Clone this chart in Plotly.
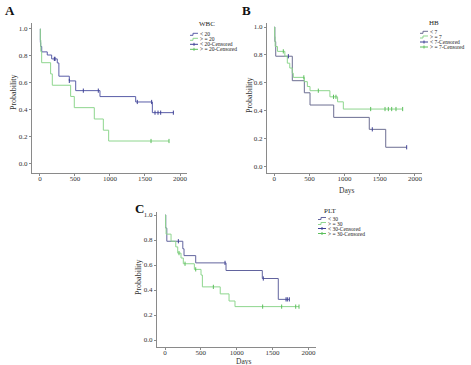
import plotly.graph_objects as go

W, H = 471, 365
FONT = "Liberation Serif"

# ---------------- data (days, survival probability) ----------------
# Panel A : WBC
wbc_lo_t = [0, 5, 10, 25, 104, 167, 247, 270, 419, 510, 857, 1367, 1605, 1905]
wbc_lo_s = [1.0, 0.90, 0.87, 0.83, 0.807, 0.778, 0.748, 0.650, 0.615, 0.543, 0.499, 0.459, 0.38, 0.38]
wbc_lo_ct = [205, 215, 419, 619, 833, 1390, 1595, 1643, 1686, 1724, 1905]
wbc_lo_cs = [0.778, 0.778, 0.615, 0.543, 0.543, 0.459, 0.459, 0.38, 0.38, 0.38, 0.38]
wbc_hi_t = [0, 5, 12, 24, 152, 176, 438, 490, 776, 905, 981, 1843]
wbc_hi_s = [1.0, 0.917, 0.833, 0.75, 0.667, 0.583, 0.50, 0.417, 0.333, 0.25, 0.17, 0.17]
wbc_hi_ct = [1586, 1843]
wbc_hi_cs = [0.17, 0.17]

# Panel B : HB
hb_lo_t = [0, 8, 20, 256, 427, 508, 845, 1351, 1585, 1883]
hb_lo_s = [1.0, 0.895, 0.79, 0.614, 0.527, 0.439, 0.35, 0.264, 0.135, 0.135]
hb_lo_ct = [200, 1394, 1883]
hb_lo_cs = [0.79, 0.264, 0.135]
hb_hi_t = [0, 5, 12, 45, 150, 185, 220, 255, 270, 427, 470, 508, 791, 900, 982, 1826]
hb_hi_s = [1.0, 0.93, 0.86, 0.825, 0.79, 0.74, 0.705, 0.668, 0.638, 0.607, 0.572, 0.542, 0.498, 0.462, 0.41, 0.41]
hb_hi_ct = [128, 420, 626, 842, 877, 1371, 1575, 1622, 1670, 1731, 1826]
hb_hi_cs = [0.825, 0.638, 0.542, 0.498, 0.498, 0.41, 0.41, 0.41, 0.41, 0.41, 0.41]

# Panel C : PLT
plt_lo_t = [0, 10, 25, 248, 265, 428, 851, 1357, 1580, 1734]
plt_lo_s = [1.0, 0.895, 0.79, 0.73, 0.675, 0.617, 0.556, 0.492, 0.325, 0.325]
plt_lo_ct = [186, 837, 1371, 1688, 1706, 1734]
plt_lo_cs = [0.79, 0.617, 0.492, 0.325, 0.325, 0.325]
plt_hi_t = [0, 8, 15, 84, 150, 177, 223, 255, 409, 502, 521, 770, 893, 976, 1869]
plt_hi_s = [1.0, 0.9, 0.847, 0.79, 0.745, 0.695, 0.656, 0.61, 0.565, 0.52, 0.425, 0.369, 0.312, 0.267, 0.267]
plt_hi_ct = [195, 279, 428, 674, 1362, 1627, 1823, 1869]
plt_hi_cs = [0.695, 0.61, 0.565, 0.425, 0.267, 0.267, 0.267, 0.267]

y_ticks = [0.0, 0.2, 0.4, 0.6, 0.8, 1.0]
x_ticks = [0, 500, 1000, 1500, 2000]

panels = [
    dict(key="", letter="A", title="WBC",
         names=["< 20", "> = 20", "< 20-Censored", "> = 20-Censored"],
         lo=(wbc_lo_t, wbc_lo_s, wbc_lo_ct, wbc_lo_cs),
         hi=(wbc_hi_t, wbc_hi_s, wbc_hi_ct, wbc_hi_cs),
         xdom=(32, 187), ydom=(23, 173), xr=[-114, 2100], yr=[-0.067, 1.044],
         lo_color="#5a5ea8", days=False,
         letter_xy=(10, 11), ylab_xy=(13, 92),
         leg_x=190, leg_title_xy=(207, 24), leg_rows=[34.3, 39.3, 44.3, 49.3]),
    dict(key="2", letter="B", title="HB",
         names=["< 7", "> = 7", "< 7-Censored", "> = 7-Censored"],
         lo=(hb_lo_t, hb_lo_s, hb_lo_ct, hb_lo_cs),
         hi=(hb_hi_t, hb_hi_s, hb_hi_ct, hb_hi_cs),
         xdom=(267, 422), ydom=(23, 173), xr=[-104, 2101], yr=[-0.05, 1.029],
         lo_color="#6c6e92", days=True, days_xy=(346, 190),
         letter_xy=(246, 11), ylab_xy=(250, 95),
         leg_x=420, leg_title_xy=(434, 23), leg_rows=[32.3, 37, 42, 47]),
    dict(key="3", letter="C", title="PLT",
         names=["< 30", "> = 30", "< 30-Censored", "> = 30-Censored"],
         lo=(plt_lo_t, plt_lo_s, plt_lo_ct, plt_lo_cs),
         hi=(plt_hi_t, plt_hi_s, plt_hi_ct, plt_hi_cs),
         xdom=(157, 316), ydom=(212, 347), xr=[-112, 2106], yr=[-0.056, 1.024],
         lo_color="#62649e", days=True, days_xy=(243, 361),
         letter_xy=(139, 208), ylab_xy=(138, 277),
         leg_x=318, leg_title_xy=(330, 210.5), leg_rows=[218.5, 223.5, 228.5, 233.5]),
]

GREEN_LINE = "#8ed68e"
GREEN_MARK = "#5cbf5c"


def px_x(v):
    return v / W


def px_y(v):
    return 1 - v / H


fig = go.Figure()
annotations = []
shapes = []

for p in panels:
    xa = "x" + p["key"]
    ya = "y" + p["key"]
    lo_t, lo_s, lo_ct, lo_cs = p["lo"]
    hi_t, hi_s, hi_ct, hi_cs = p["hi"]
    lo_mark = "#3f4296"
    fig.add_trace(go.Scatter(x=lo_t, y=lo_s, mode="lines", line=dict(color=p["lo_color"], width=1, shape="hv"),
                             xaxis=xa, yaxis=ya, showlegend=False, hoverinfo="skip"))
    fig.add_trace(go.Scatter(x=hi_t, y=hi_s, mode="lines", line=dict(color=GREEN_LINE, width=1, shape="hv"),
                             xaxis=xa, yaxis=ya, showlegend=False, hoverinfo="skip"))
    fig.add_trace(go.Scatter(x=lo_ct, y=lo_cs, mode="markers",
                             marker=dict(symbol="line-ns", size=3, line=dict(color=lo_mark, width=1)),
                             xaxis=xa, yaxis=ya, showlegend=False, hoverinfo="skip"))
    fig.add_trace(go.Scatter(x=hi_ct, y=hi_cs, mode="markers",
                             marker=dict(symbol="line-ns", size=3, line=dict(color=GREEN_MARK, width=1)),
                             xaxis=xa, yaxis=ya, showlegend=False, hoverinfo="skip"))

    axis_common = dict(showline=True, linecolor="#8a8a8a", linewidth=1, ticks="outside", ticklen=2,
                       tickcolor="#8a8a8a", tickwidth=1, showgrid=False, zeroline=False,
                       tickfont=dict(family=FONT, size=7, color="#333333"))
    x0, x1 = p["xdom"]
    y0, y1 = p["ydom"]
    fig.layout["xaxis" + p["key"]] = dict(domain=[px_x(x0), px_x(x1)], range=p["xr"], anchor=ya,
                                           tickvals=x_ticks, ticklabelstandoff=-3, **axis_common)
    fig.layout["yaxis" + p["key"]] = dict(domain=[px_y(y1), px_y(y0)], range=p["yr"], anchor=xa,
                                           tickvals=y_ticks, tickformat=".1f", **axis_common)

    lx, ly = p["letter_xy"]
    annotations.append(dict(x=px_x(lx), y=px_y(ly), xref="paper", yref="paper", text="<b>%s</b>" % p["letter"],
                            showarrow=False, xanchor="center", yanchor="middle",
                            font=dict(family=FONT, size=13, color="#111111")))
    yx, yy = p["ylab_xy"]
    annotations.append(dict(x=px_x(yx), y=px_y(yy), xref="paper", yref="paper", text="Probability",
                            showarrow=False, textangle=-90, xanchor="center", yanchor="middle",
                            font=dict(family=FONT, size=8, color="#333333")))
    if p["days"]:
        dx, dy = p["days_xy"]
        annotations.append(dict(x=px_x(dx), y=px_y(dy), xref="paper", yref="paper", text="Days",
                                showarrow=False, xanchor="center", yanchor="middle",
                                font=dict(family=FONT, size=7.5, color="#333333")))
    tx, ty = p["leg_title_xy"]
    annotations.append(dict(x=px_x(tx), y=px_y(ty), xref="paper", yref="paper", text=p["title"],
                            showarrow=False, xanchor="center", yanchor="middle",
                            font=dict(family=FONT, size=7, color="#222222")))
    lxs = p["leg_x"]
    colors = [p["lo_color"], GREEN_LINE, lo_mark, GREEN_MARK]
    for i, (name, row) in enumerate(zip(p["names"], p["leg_rows"])):
        annotations.append(dict(x=px_x(lxs + 8), y=px_y(row), xref="paper", yref="paper", text=name,
                                showarrow=False, xanchor="left", yanchor="middle",
                                font=dict(family=FONT, size=5.5, color="#222222")))
        c = colors[i]
        if i < 2:
            path = "M %f %f L %f %f L %f %f L %f %f" % (
                px_x(lxs), px_y(row + 1), px_x(lxs + 3), px_y(row + 1),
                px_x(lxs + 3), px_y(row - 1), px_x(lxs + 8), px_y(row - 1))
            shapes.append(dict(type="path", path=path, xref="paper", yref="paper",
                               line=dict(color=c, width=1)))
        else:
            shapes.append(dict(type="line", x0=px_x(lxs), x1=px_x(lxs + 8), y0=px_y(row), y1=px_y(row),
                               xref="paper", yref="paper", line=dict(color=c, width=1)))
            shapes.append(dict(type="line", x0=px_x(lxs + 4), x1=px_x(lxs + 4), y0=px_y(row - 1.5),
                               y1=px_y(row + 1.5), xref="paper", yref="paper", line=dict(color=c, width=1)))

fig.update_layout(width=W, height=H, margin=dict(l=0, r=0, t=0, b=0),
                  paper_bgcolor="white", plot_bgcolor="white",
                  annotations=annotations, shapes=shapes, showlegend=False)

fig.write_html("out.html", config={"displayModeBar": False},
               post_script="document.body.style.margin='0';document.body.style.overflow='hidden';")
